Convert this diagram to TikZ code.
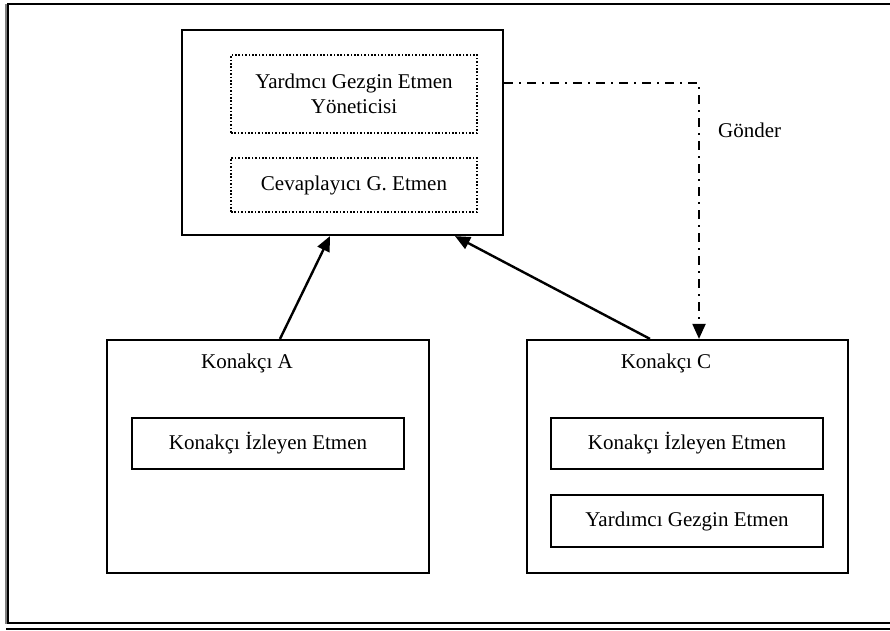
\documentclass[tikz,border=0pt]{standalone}
\usepackage{fontspec}
\setmainfont{Liberation Serif}
\usetikzlibrary{arrows.meta}
\begin{document}
\begin{tikzpicture}[x=1pt,y=-1pt,
  lbl/.style={font=\fontsize{21}{25}\selectfont, inner sep=0pt},
  box/.style={draw, line width=2.2pt, minimum width=#1, inner sep=0pt, anchor=center, font=\fontsize{21}{25}\selectfont},
  dotbox/.style={draw, line width=1.6pt, dash pattern=on 1.6pt off 1.8pt, minimum width=246pt, inner sep=0pt, align=center, font=\fontsize{21}{25}\selectfont},
  arr/.style={line width=2.4pt, -{Triangle[length=15pt,width=13pt]}},
  sendline/.style={line width=2pt, dash pattern=on 9pt off 6pt on 2pt off 6pt, -{Triangle[length=15pt,width=13pt]}}]
\useasboundingbox (0,0) rectangle (890,630);
\clip (0,0) rectangle (890,630);

% page frame
\draw[gray, line width=1.2pt] (6,4) -- (6,624);
\draw[line width=1.8pt] (900,4) -- (8,4) -- (8,623) -- (900,623);
\draw[line width=1.6pt] (6,629) -- (890,629);

% manager host
\node[box=321pt, minimum height=205pt] (top) at (342.5,132.5) {};
\node[dotbox, minimum height=78pt] (mgr) at (354,94) {Yardmcı Gezgin Etmen\\Yöneticisi};
\node[dotbox, minimum height=54pt] (resp) at (354,185) {Cevaplayıcı G. Etmen};

% host A
\node[box=322pt, minimum height=233pt] (hostA) at (268,456.5) {};
\node[lbl] (hostAlbl) at (247,363) {Konakçı A};
\node[box=272pt, minimum height=51pt] (monA) at (268,443.5) {Konakçı İzleyen Etmen};

% host C
\node[box=321pt, minimum height=233pt] (hostC) at (687.5,456.5) {};
\node[lbl] (hostClbl) at (666,363) {Konakçı C};
\node[box=272pt, minimum height=51pt] (monC) at (687,443.5) {Konakçı İzleyen Etmen};
\node[box=272pt, minimum height=52pt] (helpC) at (687,521) {Yardımcı Gezgin Etmen};

% connectors
\draw[arr] ([xshift=12pt]hostA.north) -- ([xshift=-12.5pt]top.south);
\draw[arr] ([xshift=-37.5pt]hostC.north) -- ([xshift=112.5pt]top.south);

\coordinate (bend) at (699,83);
\draw[sendline] (top.east |- bend) -- (bend) -- (hostC.north -| bend);
\node[lbl, anchor=west] (send) at (718,130) {Gönder};
\end{tikzpicture}
\end{document}
